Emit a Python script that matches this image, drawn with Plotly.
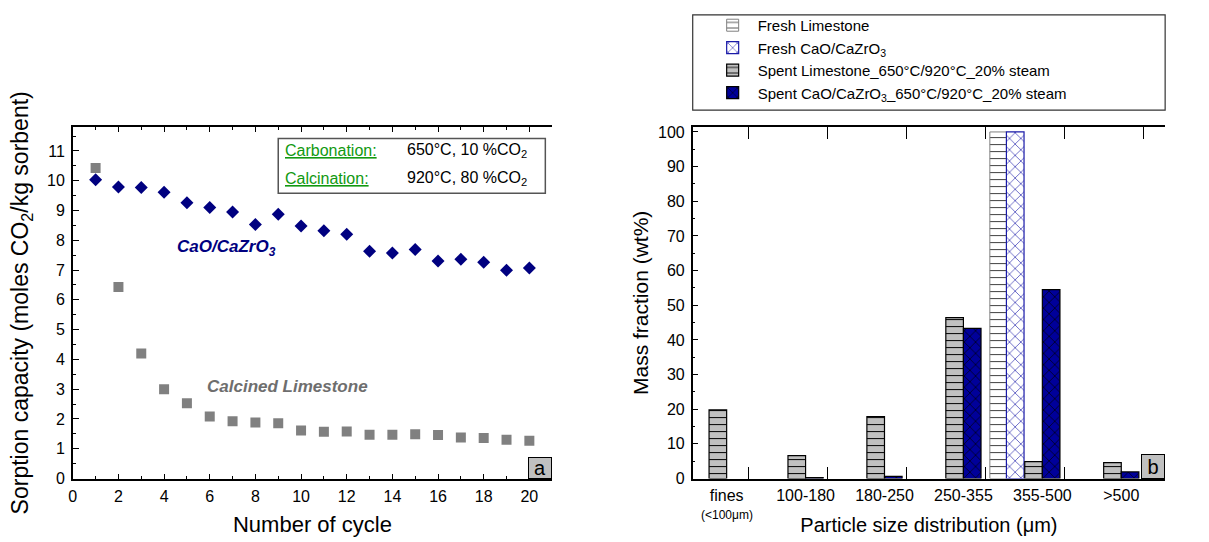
import plotly.graph_objects as go

# ---------------- data ----------------
cycles = list(range(1, 21))
cao_cazro3 = [10.03, 9.79, 9.77, 9.61, 9.26, 9.10, 8.95, 8.53, 8.87, 8.48,
              8.32, 8.20, 7.63, 7.57, 7.69, 7.30, 7.36, 7.26, 6.99, 7.07]
calcined_ls = [10.43, 6.43, 4.20, 3.00, 2.53, 2.08, 1.92, 1.88, 1.86, 1.61,
               1.57, 1.58, 1.47, 1.47, 1.49, 1.46, 1.38, 1.36, 1.30, 1.27]

size_classes = ["fines", "100-180", "180-250", "250-355", "355-500", "&gt;500"]
fines_note = "(&lt;100μm)"
class_idx = list(range(len(size_classes)))
fresh_ls = [None, None, None, None, 100.0, None]
fresh_cao = [None, None, None, None, 100.0, None]
spent_ls = [19.8, 6.6, 17.9, 46.4, 4.9, 4.6]
spent_cao = [None, 0.3, 0.6, 43.3, 54.5, 1.9]

W, H = 1209, 542
FONT = "Arial, Liberation Sans, sans-serif"
VS = 0.985  # vertical compensation observed in the rendered snapshot


def px_x(p):
    return p / W


def px_y(p):
    return 1 - (p / VS) / H


fig = go.Figure()

# ---------------- left panel ----------------
fig.add_trace(go.Scatter(x=cycles, y=calcined_ls, mode="markers",
                         marker=dict(symbol="square", size=10, color="#808080"),
                         showlegend=False, xaxis="x", yaxis="y"))
fig.add_trace(go.Scatter(x=cycles, y=cao_cazro3, mode="markers",
                         marker=dict(symbol="diamond", size=10, color="#000080"),
                         showlegend=False, xaxis="x", yaxis="y"))

# ---------------- right panel ----------------
bw = 0.223
fig.add_trace(go.Bar(x=class_idx, y=fresh_ls, name="Fresh Limestone",
                     width=0.21, offset=-0.665,
                     marker=dict(color="white", line=dict(color="#808080", width=1),
                                 pattern=dict(shape="-", bgcolor="white", fgcolor="#404040",
                                              size=7, solidity=0.15, fillmode="replace")),
                     xaxis="x2", yaxis="y3"))
fig.add_trace(go.Bar(x=class_idx, y=fresh_cao, name="Fresh CaO/CaZrO<sub>3</sub>",
                     width=bw, offset=-0.455,
                     marker=dict(color="white", line=dict(color="#1a1aa8", width=1.2),
                                 pattern=dict(shape="x", bgcolor="white", fgcolor="#1a1aa8",
                                              size=8, solidity=0.15, fillmode="replace")),
                     xaxis="x2", yaxis="y3"))
fig.add_trace(go.Bar(x=class_idx, y=spent_ls, name="Spent Limestone_650°C/920°C_20% steam",
                     width=bw, offset=-bw,
                     marker=dict(color="#c0c0c0", line=dict(color="black", width=1.2),
                                 pattern=dict(shape="-", bgcolor="#c0c0c0", fgcolor="black",
                                              size=7, solidity=0.15, fillmode="replace")),
                     xaxis="x2", yaxis="y3"))
fig.add_trace(go.Bar(x=class_idx, y=spent_cao,
                     name="Spent CaO/CaZrO<sub>3</sub>_650°C/920°C_20% steam",
                     width=bw, offset=0,
                     marker=dict(color="#00009a", line=dict(color="black", width=1.2),
                                 pattern=dict(shape="x", bgcolor="#00009a", fgcolor="black",
                                              size=8, solidity=0.15, fillmode="replace")),
                     xaxis="x2", yaxis="y3"))

tickfont = dict(family=FONT, size=16, color="black")

ydom = [px_y(479), px_y(125)]
left_dom = [px_x(69), px_x(550)]
right_dom = [px_x(691), px_x(1165)]

common_axis = dict(showline=True, linecolor="black", linewidth=1.5, ticks="inside",
                   tickcolor="black", showgrid=False, zeroline=False, tickfont=tickfont)

fig.update_layout(
    width=W, height=H, autosize=False,
    margin=dict(l=0, r=0, t=0, b=0),
    paper_bgcolor="white", plot_bgcolor="white",
    font=dict(family=FONT, color="black"),
    barmode="overlay",
    xaxis=dict(domain=left_dom, anchor="y", range=[0, 21], tickvals=list(range(0, 21, 2)),
               ticklen=5, tickwidth=1, mirror="ticks", ticklabelstandoff=3,
               minor=dict(tickvals=list(range(1, 21, 2)), ticklen=3, ticks="inside",
                          tickcolor="black"),
               title=dict(text="Number of cycle",
                          font=dict(family=FONT, size=22, color="black"), standoff=12),
               **common_axis),
    yaxis=dict(domain=ydom, anchor="x", range=[0, 11.8], tickvals=list(range(0, 12)),
               ticklen=6, tickwidth=1, ticklabelstandoff=3,
               minor=dict(tickvals=[i + 0.5 for i in range(0, 12)], ticklen=3, ticks="inside",
                          tickcolor="black"),
               title=dict(text="Sorption capacity (moles CO<sub>2</sub>/kg sorbent)",
                          font=dict(family=FONT, size=23, color="black"), standoff=12),
               **common_axis),
    yaxis2=dict(domain=ydom, anchor="x", overlaying="y", side="right", range=[0, 11.8],
                tickvals=list(range(0, 12)), ticklen=6, tickwidth=1, ticklabelstandoff=3,
                minor=dict(tickvals=[i + 0.5 for i in range(0, 12)], ticklen=3,
                           ticks="inside", tickcolor="black"),
                **common_axis),
    xaxis2=dict(domain=right_dom, anchor="y3", range=[-0.43, 5.556],
                tickvals=class_idx, ticktext=size_classes, ticklen=0, mirror="ticks",
                ticklabelstandoff=2,
                minor=dict(tickvals=[i + 0.278 for i in class_idx], ticklen=12,
                           ticks="inside", tickcolor="black", tickwidth=1),
                title=dict(text="Particle size distribution (μm)",
                           font=dict(family=FONT, size=20, color="black"), standoff=15),
                showline=True, linecolor="black", linewidth=1.5, ticks="",
                showgrid=False, zeroline=False,
                tickfont=dict(family=FONT, size=16, color="black")),
    yaxis3=dict(domain=ydom, anchor="x2", range=[0, 101.4], tickvals=list(range(0, 101, 10)),
                ticklen=6, tickwidth=1, ticklabelstandoff=3,
                minor=dict(tickvals=list(range(5, 101, 10)), ticklen=3, ticks="inside",
                           tickcolor="black"),
                title=dict(text="Mass fraction (wt%)",
                           font=dict(family=FONT, size=21, color="black"), standoff=4),
                **common_axis),
    yaxis4=dict(domain=ydom, anchor="x2", overlaying="y3", side="right", range=[0, 101.4],
                tickvals=list(range(0, 101, 10)), ticklen=6, tickwidth=1, ticklabelstandoff=3,
                minor=dict(tickvals=list(range(5, 101, 10)), ticklen=3, ticks="inside",
                           tickcolor="black"),
                **common_axis),
    legend=dict(x=px_x(706), y=px_y(6), xanchor="left", yanchor="top",
                font=dict(family=FONT, size=15, color="black"),
                bgcolor="rgba(0,0,0,0)", borderwidth=0, tracegroupgap=0,
                itemwidth=40, traceorder="normal"),
    showlegend=True,
)

# second line of the "fines" category label
fig.add_annotation(x=class_idx[0], y=px_y(516), xref="x2", yref="paper", text=fines_note,
                   showarrow=False, yanchor="middle",
                   font=dict(family=FONT, size=12, color="black"))

# legend frame (right panel)
fig.add_shape(type="rect", xref="paper", yref="paper",
              x0=px_x(691), x1=px_x(1165), y0=px_y(108), y1=px_y(12),
              line=dict(color="#333333", width=1.2), fillcolor="rgba(0,0,0,0)", layer="below")

# condition box (left panel)
fig.add_shape(type="rect", xref="x", yref="y", x0=9.0, x1=20.7, y0=9.58, y1=11.42,
              line=dict(color="#555555", width=1.5), fillcolor="white", layer="below")

green = "#119911"
ann = [
    dict(x=9.21, y=11.02, text="<u>Carbonation:</u>", color=green),
    dict(x=14.54, y=11.02, text="650°C, 10 %CO<sub>2</sub>", color="black"),
    dict(x=9.21, y=10.08, text="<u>Calcination:</u>", color=green),
    dict(x=14.54, y=10.08, text="920°C, 80 %CO<sub>2</sub>", color="black"),
]
for a in ann:
    fig.add_annotation(x=a["x"], y=a["y"], xref="x", yref="y", text=a["text"],
                       showarrow=False, xanchor="left", yanchor="middle",
                       font=dict(family=FONT, size=16, color=a["color"]))

fig.add_annotation(x=6.72, y=7.75, xref="x", yref="y",
                   text="<b><i>CaO/CaZrO<sub>3</sub></i></b>", showarrow=False,
                   font=dict(family=FONT, size=17, color="#000080"))
fig.add_annotation(x=5.81, y=3.08, xref="x", yref="y", xanchor="left",
                   text="<b><i>Calcined Limestone</i></b>", showarrow=False,
                   font=dict(family=FONT, size=17, color="#6e6e6e"))

# panel letters
fig.add_annotation(x=1, y=0, xref="x domain", yref="y domain", xanchor="right",
                   yanchor="bottom", text="a", showarrow=False,
                   font=dict(family=FONT, size=20, color="black"),
                   bgcolor="#c0c0c0", bordercolor="black", borderwidth=1, borderpad=0,
                   width=22, height=20)
fig.add_annotation(x=1, y=0, xref="x2 domain", yref="y3 domain", xanchor="right",
                   yanchor="bottom", text="b", showarrow=False,
                   font=dict(family=FONT, size=20, color="black"),
                   bgcolor="#c0c0c0", bordercolor="black", borderwidth=1, borderpad=0,
                   width=22, height=23)

# remove the default page margin so the 1209x542 figure fills the window exactly
fig.write_html("out.html", config={"displayModeBar": False},
               post_script="document.body.style.margin='0';document.body.style.overflow='hidden';")
